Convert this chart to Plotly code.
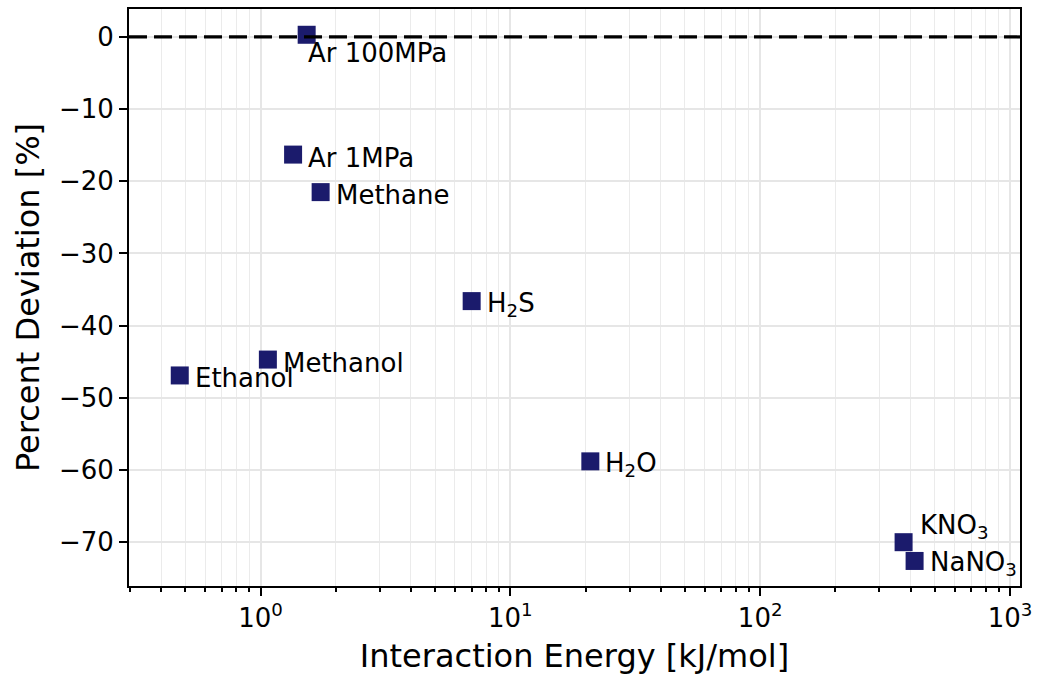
import math
import plotly.graph_objects as go

# Data
labels = ["Ar 100MPa", "Ar 1MPa", "Methane", "H<sub>2</sub>S", "Methanol",
          "Ethanol", "H<sub>2</sub>O", "KNO<sub>3</sub>", "NaNO<sub>3</sub>"]
energy = [1.53, 1.35, 1.74, 7.0, 1.07, 0.475, 20.9, 375, 415]
deviation = [0.3, -16.3, -21.5, -36.6, -44.7, -46.9, -58.8, -70.0, -72.6]

x_major = [1, 10, 100, 1000]
x_major_text = ["10<sup>0</sup>", "10<sup>1</sup>", "10<sup>2</sup>", "10<sup>3</sup>"]
y_ticks = [0, -10, -20, -30, -40, -50, -60, -70]
y_tick_text = ["0", "−10", "−20", "−30", "−40", "−50", "−60", "−70"]

# label pixel offsets (style)
label_shift = {"Ar 100MPa": (-1, -18), "KNO<sub>3</sub>": (14, 16)}
default_shift = (13, -3)

minor_vals = []
for dec in [0.1, 1, 10, 100]:
    for m in range(2, 10):
        v = m * dec
        if 0.29 < v < 1100:
            minor_vals.append(v)

fig = go.Figure()
fig.add_hline(y=0, line=dict(color="black", width=3.2, dash="18px,7px"))
fig.add_trace(go.Scatter(
    x=energy, y=deviation, mode="markers",
    marker=dict(symbol="square", size=18, color="#1b1b6c", opacity=1,
                line=dict(width=0)),
    showlegend=False,
))

for lab, xv, yv in zip(labels, energy, deviation):
    dx, dy = label_shift.get(lab, default_shift)
    fig.add_annotation(x=math.log10(xv), y=yv, text=lab, showarrow=False, xref="x", yref="y",
                       xanchor="left", yanchor="middle", xshift=dx, yshift=dy,
                       font=dict(size=26, color="black", family="DejaVu Sans"))

fig.update_layout(
    width=1039, height=676,
    margin=dict(l=129, r=16, t=7, b=90),
    paper_bgcolor="white", plot_bgcolor="white",
    font=dict(family="DejaVu Sans", size=26, color="black"),
)
fig.update_xaxes(
    type="log", range=[-0.5265, 3.04],
    tickmode="array", tickvals=x_major, ticktext=x_major_text,
    ticks="outside", ticklen=8, tickwidth=2, tickcolor="black",
    showline=True, linecolor="black", linewidth=2, mirror=True,
    showgrid=True, gridcolor="#e6e6e6", gridwidth=1.6,
    minor=dict(tickmode="array", tickvals=minor_vals, ticks="outside", ticklen=4,
               tickcolor="black", tickwidth=1.5, showgrid=True, gridcolor="#ebebeb", gridwidth=1.4),
    title=dict(text="Interaction Energy [kJ/mol]", font=dict(size=32), standoff=12),
    tickfont=dict(size=26),
    zeroline=False,
)
fig.update_yaxes(
    range=[-76.07, 3.87],
    tickmode="array", tickvals=y_ticks, ticktext=y_tick_text,
    ticks="outside", ticklen=8, tickwidth=2, tickcolor="black",
    showline=True, linecolor="black", linewidth=2, mirror=True,
    showgrid=True, gridcolor="#e6e6e6", gridwidth=1.6,
    title=dict(text="Percent Deviation [%]", font=dict(size=32), standoff=10),
    tickfont=dict(size=26),
    zeroline=False,
)

fig.write_html("out.html")
